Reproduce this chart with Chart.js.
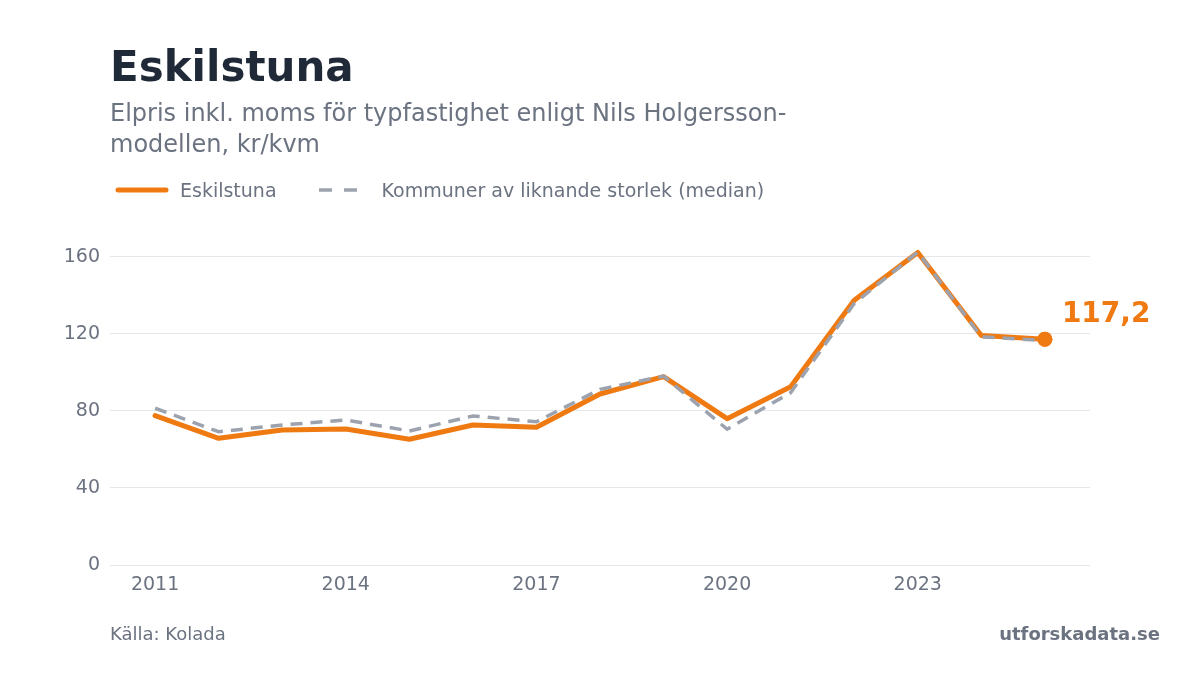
<!DOCTYPE html>
<html lang="sv">
<head>
<meta charset="utf-8">
<title>Eskilstuna – elpris</title>
<script src="https://cdn.jsdelivr.net/npm/chart.js@4.4.1/dist/chart.umd.min.js"></script>
<style>
  html, body { margin: 0; padding: 0; background: #fff; }
  body { width: 1200px; height: 675px; position: relative; overflow: hidden; font-family: "DejaVu Sans", sans-serif; }
  #chart-wrap { position: absolute; left: 0; top: 0; width: 1200px; height: 675px; }
  .title { position: absolute; left: 110px; top: 46px; font-size: 42px; line-height: 42px; font-weight: bold; color: #1f2937; }
  .subtitle { position: absolute; left: 110px; top: 98px; width: 740px; font-size: 24px; line-height: 31px; color: #6b7280; }
  .legend { position: absolute; left: 115px; top: 179px; height: 22px; display: flex; align-items: center; font-size: 19px; color: #6b7280; }
  .legend svg { display: block; }
  .source { position: absolute; left: 110px; top: 624px; font-size: 18px; line-height: 20px; color: #6b7280; }
  .brand { position: absolute; right: 40px; top: 624px; font-size: 18px; line-height: 20px; font-weight: bold; color: #6b7280; }
</style>
</head>
<body>
<div id="chart-wrap"><canvas id="elpris-chart" width="1200" height="675"></canvas></div>
<div class="title">Eskilstuna</div>
<div class="subtitle">Elpris inkl. moms för typfastighet enligt Nils Holgersson-modellen, kr/kvm</div>
<div class="legend">
  <svg width="54" height="10" style="margin-right: 11px;"><line x1="3" y1="5" x2="51" y2="5" stroke="#f07a12" stroke-width="5" stroke-linecap="round"/></svg>
  <span style="margin-right: 41px;">Eskilstuna</span>
  <svg width="40" height="10" style="margin-right: 24px;"><line x1="1" y1="5" x2="39" y2="5" stroke="#9ca3af" stroke-width="3.5" stroke-dasharray="13 12"/></svg>
  <span>Kommuner av liknande storlek (median)</span>
</div>
<div class="source">Källa: Kolada</div>
<div class="brand">utforskadata.se</div>

<script>
const years = [2011, 2012, 2013, 2014, 2015, 2016, 2017, 2018, 2019, 2020, 2021, 2022, 2023, 2024, 2025];
const eskilstuna = [77.6, 65.8, 70.1, 70.6, 65.3, 72.7, 71.5, 88.8, 97.8, 76.0, 92.6, 137.5, 162.3, 119.2, 117.2];
const median = [81.4, 69.2, 72.7, 75.3, 69.6, 77.4, 74.4, 91.2, 98.1, 70.5, 89.5, 135.8, 162.5, 118.5, 116.5];
const xTicks = [2011, 2014, 2017, 2020, 2023];
const yTicks = [0, 40, 80, 120, 160];

const ORANGE = '#f07a12';
const GRAY = '#9ca3af';
const TEXT = '#6b7280';

Chart.defaults.font.family = '"DejaVu Sans", sans-serif';
Chart.defaults.color = TEXT;

function toPoints(values) {
  return years.map((y, i) => ({ x: y, y: values[i] }));
}

// end dot on top of both lines + value label next to it
const lastLabel = {
  id: 'lastLabel',
  afterDatasetsDraw(chart) {
    const meta = chart.getDatasetMeta(0);
    const pt = meta.data[meta.data.length - 1];
    const val = eskilstuna[eskilstuna.length - 1];
    const ctx = chart.ctx;
    pt.draw(ctx, chart.chartArea);
    ctx.save();
    ctx.font = 'bold 28px "DejaVu Sans", sans-serif';
    ctx.fillStyle = ORANGE;
    ctx.textAlign = 'left';
    ctx.textBaseline = 'alphabetic';
    ctx.fillText(val.toFixed(1).replace('.', ','), pt.x + 17, pt.y - 17);
    ctx.restore();
  }
};

const ctx = document.getElementById('elpris-chart').getContext('2d');
new Chart(ctx, {
  type: 'line',
  data: {
    datasets: [
      {
        label: 'Eskilstuna',
        data: toPoints(eskilstuna),
        borderColor: ORANGE,
        backgroundColor: ORANGE,
        borderWidth: 5,
        borderCapStyle: 'round',
        borderJoinStyle: 'round',
        pointRadius: c => (c.dataIndex === eskilstuna.length - 1 ? 7.5 : 0),
        pointBorderWidth: 0,
        tension: 0,
        order: 1
      },
      {
        label: 'Kommuner av liknande storlek (median)',
        data: toPoints(median),
        borderColor: GRAY,
        borderWidth: 3.5,
        borderDash: [12, 8],
        pointRadius: 0,
        tension: 0,
        order: 0
      }
    ]
  },
  options: {
    responsive: false,
    animation: false,
    layout: { padding: { left: 50, right: 110, top: 228, bottom: 70 } },
    plugins: {
      legend: { display: false },
      title: { display: false },
      tooltip: { enabled: false }
    },
    scales: {
      x: {
        type: 'linear',
        min: 2010.29,
        max: 2025.71,
        afterBuildTicks: scale => { scale.ticks = xTicks.map(v => ({ value: v })); },
        afterFit: scale => { scale.height = 40; },
        grid: { display: false, drawTicks: false },
        border: { display: false },
        ticks: { padding: 9, font: { size: 19 }, color: TEXT, callback: v => String(v) }
      },
      y: {
        min: 0,
        max: 175,
        afterBuildTicks: scale => { scale.ticks = yTicks.map(v => ({ value: v })); },
        afterFit: scale => { scale.width = 60; },
        grid: { color: '#e5e7eb', lineWidth: 1, drawTicks: false },
        border: { display: false },
        ticks: { padding: 10, font: { size: 19 }, color: TEXT }
      }
    }
  },
  plugins: [lastLabel]
});
</script>
</body>
</html>
